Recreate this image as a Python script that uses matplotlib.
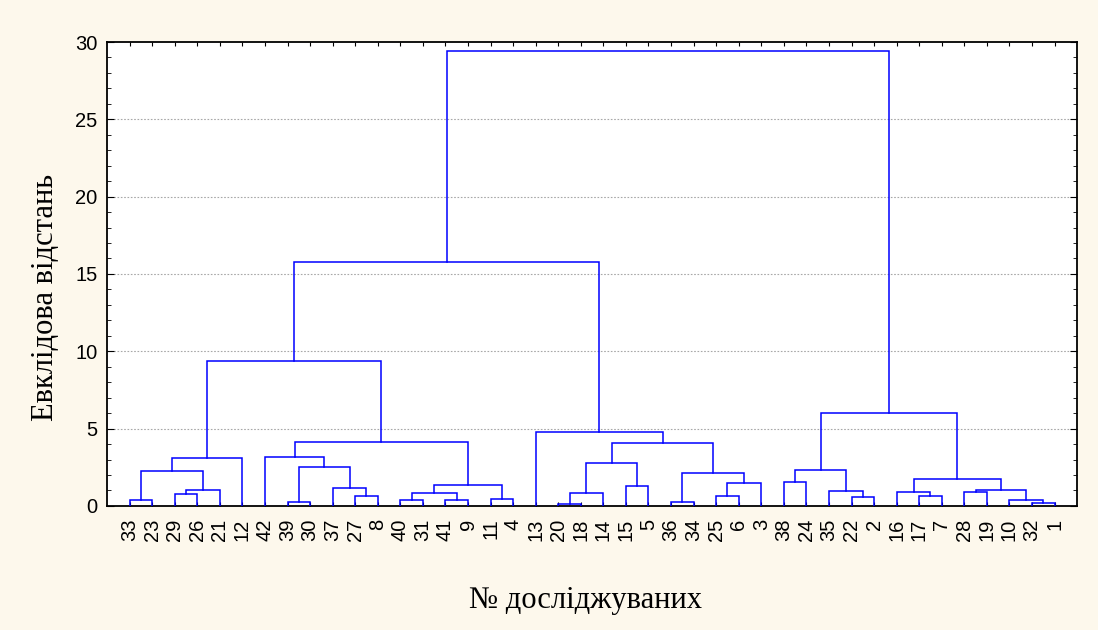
import matplotlib.pyplot as plt
from matplotlib.ticker import MultipleLocator

# leaf order along the x axis
leaves = [33, 23, 29, 26, 21, 12, 42, 39, 30, 37, 27, 8, 40, 31, 41, 9, 11, 4,
          13, 20, 18, 14, 15, 5, 36, 34, 25, 6, 3, 38, 24, 35, 22, 2, 16, 17, 7,
          28, 19, 10, 32, 1]

# merges: (left, right, distance); ints are leaves, 'mN' is merge number N
merges = [
    (33, 23, 0.41),        # m0
    (29, 26, 0.78),        # m1
    ('m1', 21, 1.01),      # m2
    ('m0', 'm2', 2.28),    # m3
    ('m3', 12, 3.08),      # m4
    (39, 30, 0.24),        # m5
    (27, 8, 0.67),         # m6
    (37, 'm6', 1.14),      # m7
    ('m5', 'm7', 2.54),    # m8
    (42, 'm8', 3.19),      # m9
    (40, 31, 0.39),        # m10
    (41, 9, 0.37),         # m11
    ('m10', 'm11', 0.84),  # m12
    (11, 4, 0.47),         # m13
    ('m12', 'm13', 1.38),  # m14
    ('m9', 'm14', 4.12),   # m15
    ('m4', 'm15', 9.37),   # m16
    (20, 18, 0.13),        # m17
    ('m17', 14, 0.82),     # m18
    (15, 5, 1.31),         # m19
    ('m18', 'm19', 2.76),  # m20
    (36, 34, 0.24),        # m21
    (25, 6, 0.63),         # m22
    ('m22', 3, 1.47),      # m23
    ('m21', 'm23', 2.11),  # m24
    ('m20', 'm24', 4.07),  # m25
    (13, 'm25', 4.76),     # m26
    ('m16', 'm26', 15.77), # m27
    (38, 24, 1.55),        # m28
    (22, 2, 0.60),         # m29
    (35, 'm29', 0.99),     # m30
    ('m28', 'm30', 2.33),  # m31
    (17, 7, 0.67),         # m32
    (16, 'm32', 0.93),     # m33
    (28, 19, 0.93),        # m34
    (32, 1, 0.21),         # m35
    (10, 'm35', 0.37),     # m36
    ('m34', 'm36', 1.05),  # m37
    ('m33', 'm37', 1.75),  # m38
    ('m31', 'm38', 5.99),  # m39
    ('m27', 'm39', 29.41), # m40
]

y_ticks = [0, 5, 10, 15, 20, 25, 30]

bg = '#fdf8ec'
fig = plt.figure(figsize=(10.98, 6.30), dpi=100, facecolor=bg)
ax = fig.add_axes([0.0975, 0.197, 0.8835, 0.7363])

pos = {}
for i, lf in enumerate(leaves):
    pos[lf] = (i + 1, 0.0)

for k, (a, b, h) in enumerate(merges):
    xa, ya = pos[a]
    xb, yb = pos[b]
    ax.plot([xa, xa, xb, xb], [ya, h, h, yb], color='#0000ff', lw=1.1,
            solid_joinstyle='miter', zorder=3)
    pos['m%d' % k] = ((xa + xb) / 2, h)

ax.set_xlim(0, len(leaves) + 1)
ax.set_ylim(0, 30)
ax.set_xticks(range(1, len(leaves) + 1))
ax.set_xticklabels([str(v) for v in leaves], rotation=90, fontsize=14.5,
                   family='Liberation Sans')
ax.set_yticks(y_ticks)
ax.set_yticklabels([str(v) for v in y_ticks], fontsize=14.5,
                   family='Liberation Sans')
ax.yaxis.set_minor_locator(MultipleLocator(1))
ax.tick_params(axis='both', which='both', direction='in', top=True, right=True)
ax.tick_params(axis='y', which='major', length=5, pad=7)
ax.tick_params(axis='y', which='minor', length=3)
ax.tick_params(axis='x', which='major', length=3, pad=9)

for yv in y_ticks[1:-1]:
    ax.axhline(yv, color='#a8a8a8', lw=0.8, ls=(0, (1.5, 1.5)), zorder=1)

for s in ax.spines.values():
    s.set_linewidth(1.3)

ax.set_ylabel('Евклідова відстань', fontsize=22, family='Liberation Serif')
ax.yaxis.set_label_coords(-0.048, 0.449)
ax.set_xlabel('№ досліджуваних', fontsize=22, family='Liberation Serif')
ax.xaxis.set_label_coords(0.493, -0.172)

fig.savefig('out.png', dpi=100, facecolor=bg)
